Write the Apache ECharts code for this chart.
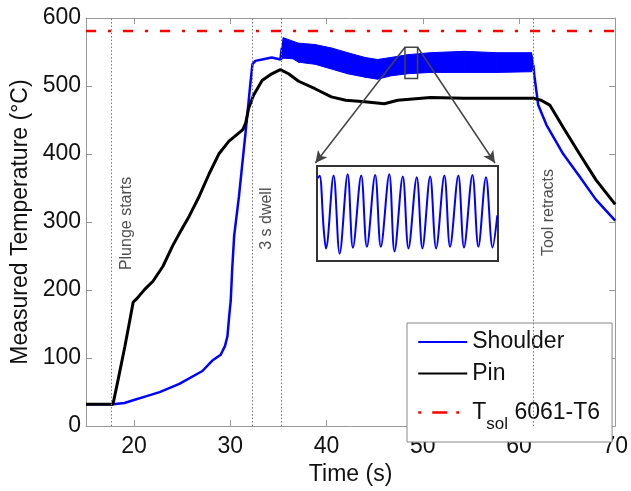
<!DOCTYPE html>
<html><head><meta charset="utf-8">
<script src="https://cdn.jsdelivr.net/npm/echarts@6/dist/echarts.min.js"></script>
<style>html,body{margin:0;padding:0;background:#fff}#c{width:631px;height:491px}</style>
</head><body><div id="c"></div>
<script>
// ---- data ----
const shoulderT = [15, 17.8, 19.0, 19.9, 21.3, 22.65, 24.7, 27.1, 28.1, 29.0, 29.45, 29.7, 29.87, 30.04, 30.2, 30.4, 30.9, 31.6, 32.1, 32.3, 32.6, 33.3, 34.3, 35.2, 35.35, 36.5, 38.8, 40.5, 42.2, 44.0, 45.3, 46.7, 48.4, 50.8, 54.3, 57.7, 61.3, 61.5, 61.6, 62.0, 62.85, 64.6, 66.3, 68.0, 70];
const shoulderV = [32, 32, 34, 38, 44, 50, 62, 81, 96, 105, 118, 132, 160, 184, 232, 280, 338, 434, 506, 532, 537, 539, 542, 539, 556, 553, 546, 540, 533, 527, 524, 528, 532, 534, 535, 534, 535, 530, 515, 472, 443, 400, 367, 333, 302];

// noisy band of the shoulder signal (lower / upper envelope)
const bandT    = [35.25, 35.5, 36.5, 37.1, 38.8, 40.5, 42.2, 44.0, 45.3, 46.7, 48.4, 50.8, 54.3, 57.7, 61.3, 61.45];
const bandLow  = [538, 541, 540, 535, 532, 525, 518, 513, 510, 515, 518, 520, 520, 520, 521, 528];
const bandHigh = [545, 571, 566, 563, 561, 556, 549, 542, 539, 542, 546, 549, 551, 549, 549, 540];

const pinT = [15, 17.8, 18.35, 19.04, 19.56, 19.9, 20.25, 21.1, 21.96, 23.0, 24.0, 24.7, 25.74, 26.77, 27.8, 28.8, 29.86, 30.9, 31.3, 31.6, 31.9, 32.4, 33.3, 34.3, 35.2, 36.05, 37.1, 38.8, 40.5, 42.0, 43.96, 46.0, 47.4, 50.8, 54.3, 57.7, 61.5, 62.3, 63.2, 64.6, 66.3, 68.0, 70];
const pinV = [32, 32, 69, 117, 156, 182, 187, 201, 213, 235, 265, 283, 309, 338, 371, 400, 419, 431, 436, 446, 467, 486, 508, 518, 524, 518, 507, 496, 484, 479, 477, 474, 479, 483, 482, 482, 482, 479, 472, 439, 400, 362, 326];

const tsolT = [15, 70];
const tsolV = 581;

const eventT = [17.6, 32.3, 35.25, 61.45];
const annotText = ['Plunge starts', '3 s dwell', 'Tool retracts'];
const annotT = [19.22, 33.78, 63.03];
const annotV = [298, 305, 314];

const zoomBoxT = [48.15, 49.46];
const zoomBoxV = [511, 557];
const insetCornerT = [38.84, 57.5];
const insetCornerV = 386.8;

// zoomed oscillation (inset)
const insetT = [48.155, 48.169, 48.198, 48.215, 48.270, 48.314, 48.372, 48.410, 48.470, 48.511, 48.571, 48.612, 48.673, 48.711, 48.771, 48.812, 48.872, 48.913, 48.969, 49.012, 49.072, 49.113, 49.173, 49.214, 49.275, 49.318, 49.373, 49.421, 49.455];
const insetV = [551.8, 553.0, 526.0, 515.5, 553.1, 512.8, 553.8, 515.8, 553.1, 516.3, 553.4, 516.3, 553.8, 513.9, 552.6, 515.5, 552.2, 515.5, 552.6, 515.5, 553.1, 516.3, 553.1, 516.0, 553.4, 516.3, 552.2, 516.0, 532.5];

// ---- chart ----
const F = 'Liberation Sans, Arial, Helvetica, sans-serif';
const AX = '#999';
const TXT = '#111';
const zip = (a, b) => a.map((v, i) => [v, b[i]]);

const chart = echarts.init(document.getElementById('c'), null, {renderer: 'canvas'});
chart.setOption({
  backgroundColor: '#fff',
  animation: false,
  textStyle: {fontFamily: F},
  grid: [
    {left: 86, right: 12, top: 18, bottom: 56, containLabel: false},
    {left: 317, top: 166, width: 181, height: 95, show: true, borderColor: '#333', borderWidth: 2, backgroundColor: '#fff', z: 20}
  ],
  xAxis: [
    {type: 'value', gridIndex: 0, min: 15, max: 70, splitNumber: 5,
     axisLine: {onZero: false, lineStyle: {color: AX, width: 1}},
     axisTick: {inside: true, length: 6, lineStyle: {color: AX}},
     axisLabel: {color: TXT, fontSize: 23, fontFamily: F, margin: 9, showMinLabel: false},
     splitLine: {show: false},
     name: 'Time (s)', nameLocation: 'middle', nameGap: 32,
     nameTextStyle: {color: TXT, fontSize: 23, fontFamily: F}},
    {type: 'value', gridIndex: 0, position: 'top', min: 15, max: 70, splitNumber: 5,
     axisLine: {onZero: false, lineStyle: {color: AX, width: 1}},
     axisTick: {inside: true, length: 6, lineStyle: {color: AX}},
     axisLabel: {show: false}, splitLine: {show: false}},
    {type: 'value', gridIndex: 1, min: 48.15, max: 49.46, show: false}
  ],
  yAxis: [
    {type: 'value', gridIndex: 0, min: 0, max: 600, interval: 100,
     axisLine: {show: true, onZero: false, lineStyle: {color: AX, width: 1}},
     axisTick: {show: true, inside: true, length: 6, lineStyle: {color: AX}},
     axisLabel: {color: TXT, fontSize: 23, fontFamily: F, margin: 5},
     splitLine: {show: false},
     name: 'Measured Temperature (°C)', nameLocation: 'middle', nameGap: 46,
     nameTextStyle: {color: TXT, fontSize: 23, fontFamily: F}},
    {type: 'value', gridIndex: 0, position: 'right', min: 0, max: 600, interval: 100,
     axisLine: {show: true, onZero: false, lineStyle: {color: AX, width: 1}},
     axisTick: {show: true, inside: true, length: 6, lineStyle: {color: AX}},
     axisLabel: {show: false}, splitLine: {show: false}},
    {type: 'value', gridIndex: 1, min: 509, max: 558, show: false}
  ],
  legend: {
    orient: 'vertical', left: 407, top: 323,
    padding: [6, 12, 9, 10], itemGap: 5.5, itemWidth: 49, itemHeight: 14,
    backgroundColor: '#fff', borderColor: '#888', borderWidth: 1, borderRadius: 0,
    itemStyle: {opacity: 0, borderWidth: 0},
    textStyle: {fontFamily: F, fontSize: 23, color: TXT, lineHeight: 26,
      rich: {
        a: {fontFamily: F, fontSize: 23, lineHeight: 26, color: TXT},
        s: {fontFamily: F, fontSize: 17, lineHeight: 26, color: TXT, padding: [24, 0, 0, 0]}
      }},
    formatter: n => n === 'Tsol' ? '{a|T}{s|sol}{a| 6061-T6}' : n,
    data: [
      {name: 'Shoulder'},
      {name: 'Pin'},
      {name: 'Tsol', lineStyle: {type: [3, 11, 15, 9, 3, 20], width: 2.5}}
    ]
  },
  series: [
    {name: 'Tsol', type: 'line', xAxisIndex: 0, yAxisIndex: 0,
     data: tsolT.map(t => [t, tsolV]), symbol: 'none', z: 3,
     color: '#ff0000', itemStyle: {borderWidth: 0},
     lineStyle: {color: '#ff0000', width: 2.5, type: [10, 12, 3, 12]},
     markLine: {silent: true, symbol: ['none', 'none'], label: {show: false},
       lineStyle: {color: '#777', width: 1, type: [1.5, 2]},
       data: eventT.map(t => ({xAxis: t}))}},
    {name: 'shoulderBand', type: 'custom', xAxisIndex: 0, yAxisIndex: 0, silent: true, z: 2,
     data: bandT.map((t, i) => [t, bandLow[i], bandHigh[i]]),
     encode: {x: 0, y: [1, 2]},
     renderItem: function (params, api) {
       const i = params.dataIndex;
       if (i >= bandT.length - 1) return null;
       const pts = [
         api.coord([api.value(0, i), api.value(1, i)]),
         api.coord([bandT[i + 1], bandLow[i + 1]]),
         api.coord([bandT[i + 1], bandHigh[i + 1]]),
         api.coord([api.value(0, i), api.value(2, i)])
       ];
       return {type: 'polygon', shape: {points: pts},
         style: {fill: '#0000ff', stroke: '#0000ff', lineWidth: 1}};
     }},
    {name: 'Shoulder', type: 'line', xAxisIndex: 0, yAxisIndex: 0,
     data: zip(shoulderT, shoulderV), symbol: 'none', z: 3,
     color: '#0000ff', itemStyle: {borderWidth: 0},
     lineStyle: {color: '#0000ff', width: 2.5}},
    {name: 'Pin', type: 'line', xAxisIndex: 0, yAxisIndex: 0,
     data: zip(pinT, pinV), symbol: 'none', z: 4,
     color: '#000', itemStyle: {borderWidth: 0},
     lineStyle: {color: '#000', width: 3}},
    {name: 'zoom', type: 'line', xAxisIndex: 0, yAxisIndex: 0,
     data: [[zoomBoxT[0], zoomBoxV[1]]], symbol: 'none', silent: true, z: 6,
     lineStyle: {opacity: 0},
     markArea: {silent: true, z: 10,
       itemStyle: {color: 'rgba(0,0,0,0)', borderColor: '#444', borderWidth: 1.5},
       label: {show: false},
       data: [[{coord: [zoomBoxT[0], zoomBoxV[1]]}, {coord: [zoomBoxT[1], zoomBoxV[0]]}]]},
     markLine: {silent: true, z: 10, symbol: ['none', 'arrow'], symbolSize: [9, 12],
       label: {show: false},
       lineStyle: {color: '#444', width: 1.5, type: 'solid'},
       data: [
         [{coord: [zoomBoxT[0], zoomBoxV[1]]}, {coord: [insetCornerT[0], insetCornerV]}],
         [{coord: [zoomBoxT[1], zoomBoxV[1]]}, {coord: [insetCornerT[1], insetCornerV]}]
       ]}},
    {name: 'annot', type: 'scatter', xAxisIndex: 0, yAxisIndex: 0, silent: true, z: 7,
     symbolSize: 1, itemStyle: {color: 'transparent'},
     data: annotT.map((t, i) => ({value: [t, annotV[i]], name: annotText[i]})),
     label: {show: true, position: 'inside', rotate: 90, formatter: '{b}',
       fontFamily: F, fontSize: 16, color: '#222'}},
    {name: 'inset', type: 'line', xAxisIndex: 2, yAxisIndex: 2, z: 21,
     data: zip(insetT, insetV), symbol: 'none', smooth: 0.35, silent: true,
     lineStyle: {color: '#0000ff', width: 2}}
  ]
});
</script>
</body></html>
